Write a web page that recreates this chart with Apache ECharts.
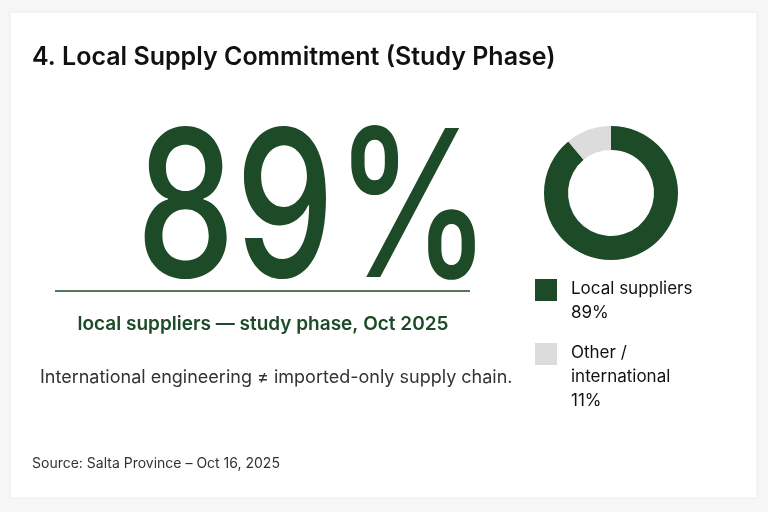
<!DOCTYPE html>
<html><head><meta charset="utf-8">
<script src="https://cdn.jsdelivr.net/npm/echarts@6/dist/echarts.min.js"></script>
<style>html,body{margin:0;padding:0;background:#f6f6f6}#c{width:768px;height:512px}</style>
</head><body><div id="c"></div>
<script>
const categories = ['Local suppliers', 'Other /\ninternational'];
const values = [89, 11];
const colors = ['#1d4a27', '#dcdcdc'];
const title = '4. Local Supply Commitment (Study Phase)';
const bigText = '89%';
const subtitle = 'local suppliers — study phase, Oct 2025';
const note = 'International engineering ≠ imported-only supply chain.';
const source = 'Source: Salta Province – Oct 16, 2025';
const F = 'Inter, "Noto Sans", sans-serif';
const legendTops = [279, 343];
const g = [
  {type:'rect', shape:{x:10,y:12,width:747,height:486}, style:{fill:'#fff', stroke:'#ececec'}},
  {type:'text', left:32, top:45, style:{text:title, font:'600 25px '+F, fill:'#111'}},
  {type:'text', x:255, y:215, scaleX:0.77, originX:255, originY:215, style:{text:bigText, font:'500 205px '+F, fill:colors[0], textAlign:'center', textVerticalAlign:'middle'}},
  {type:'line', shape:{x1:55,y1:291,x2:470,y2:291}, style:{stroke:colors[0], lineWidth:1.5}},
  {type:'text', x:263, y:324, style:{text:subtitle, font:'600 19px '+F, fill:colors[0], textAlign:'center', textVerticalAlign:'middle'}},
  {type:'text', x:40, y:378, style:{text:note, font:'400 18px '+F, fill:'#333', textVerticalAlign:'middle'}},
  {type:'text', x:32, y:464, style:{text:source, font:'400 14px '+F, fill:'#333', textVerticalAlign:'middle'}}
];
categories.forEach((c,i)=>{
  g.push({type:'rect', shape:{x:535,y:legendTops[i],width:22,height:22}, style:{fill:colors[i]}});
  g.push({type:'text', x:571, y:legendTops[i]-2, style:{text:c+'\n'+values[i]+'%', font:'400 17px '+F, fill:'#111', lineHeight:24}});
});
const chart = echarts.init(document.getElementById('c'));
chart.setOption({
  animation:false,
  graphic:g,
  series:[{type:'pie', center:[611,193], radius:[43,67], startAngle:90, clockwise:true,
    label:{show:false}, labelLine:{show:false}, silent:true,
    data:categories.map((c,i)=>({name:c, value:values[i], itemStyle:{color:colors[i]}}))}]
});
</script></body></html>
